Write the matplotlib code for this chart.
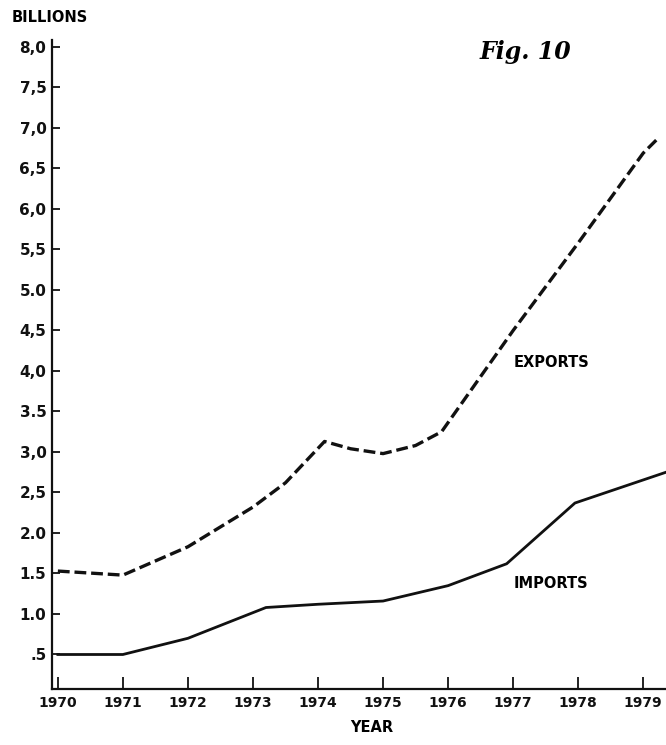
import matplotlib
matplotlib.use("Agg")
import matplotlib.pyplot as plt

# ---- data ----
export_years = [1970, 1971, 1972, 1973, 1973.5, 1974.1, 1974.5, 1975, 1975.5, 1975.9, 1977, 1978, 1979, 1979.2]
export_vals  = [1.53, 1.48, 1.83, 2.32, 2.62, 3.13, 3.04, 2.98, 3.08, 3.25, 4.50, 5.58, 6.69, 6.85]

import_years = [1970, 1971, 1972, 1973.2, 1974, 1975, 1976, 1976.9, 1977.95, 1979.35]
import_vals  = [0.50, 0.50, 0.70, 1.08, 1.12, 1.16, 1.35, 1.62, 2.37, 2.75]

year_ticks = [1970, 1971, 1972, 1973, 1974, 1975, 1976, 1977, 1978, 1979]
year_labels = ["1970", "1971", "1972", "1973", "1974", "1975", "1976", "1977", "1978", "1979"]
y_ticks = [0.5, 1.0, 1.5, 2.0, 2.5, 3.0, 3.5, 4.0, 4.5, 5.0, 5.5, 6.0, 6.5, 7.0, 7.5, 8.0]
y_labels = [".5", "1.0", "1.5", "2.0", "2,5", "3,0", "3.5", "4,0", "4,5", "5.0", "5,5", "6,0", "6,5", "7,0", "7,5", "8,0"]

plt.rcParams["lines.scale_dashes"] = False

W, H = 666, 745
fig = plt.figure(figsize=(W / 100, H / 100), dpi=100)
fig.patch.set_facecolor("white")
ax = fig.add_axes([52 / W, 1 - 689 / H, (666 - 52) / W, (689 - 40) / H])

ax.plot(export_years, export_vals, color="#111111", lw=2.4, dashes=(8.5, 3.5),
        solid_joinstyle="round", dash_capstyle="butt")
ax.plot(import_years, import_vals, color="#111111", lw=2.0, solid_joinstyle="round")

ax.set_xlim(1969.91, 1979.35)
ax.set_ylim(0.074, 8.086)

for s in ["top", "right"]:
    ax.spines[s].set_visible(False)
for s in ["left", "bottom"]:
    ax.spines[s].set_linewidth(1.6)
    ax.spines[s].set_color("#111111")

ax.set_xticks(year_ticks)
ax.set_xticklabels(year_labels, fontsize=10, fontweight="bold")
ax.set_yticks(y_ticks)
ax.set_yticklabels(y_labels, fontsize=11, fontweight="bold")
ax.tick_params(axis="x", direction="in", length=8.5, width=1.3, pad=5, colors="#111111")
ax.tick_params(axis="y", direction="in", length=6, width=1.3, pad=4, colors="#111111")

ax.set_xlabel("YEAR", fontsize=10.5, fontweight="bold", labelpad=7, x=(372 - 52) / (666 - 52))

fig.text(12 / W, 1 - 18 / H, "BILLIONS", fontsize=10.5, fontweight="bold",
         ha="left", va="center")
fig.text(525 / W, 1 - 52 / H, "Fig. 10", fontsize=17, fontweight="bold",
         style="italic", family="DejaVu Serif", ha="center", va="center")

ax.text(1977.0, 4.1, "EXPORTS", fontsize=10.5, fontweight="bold", ha="left", va="center")
ax.text(1977.0, 1.38, "IMPORTS", fontsize=10.5, fontweight="bold", ha="left", va="center")

fig.savefig("out.png", dpi=100, facecolor="white")
